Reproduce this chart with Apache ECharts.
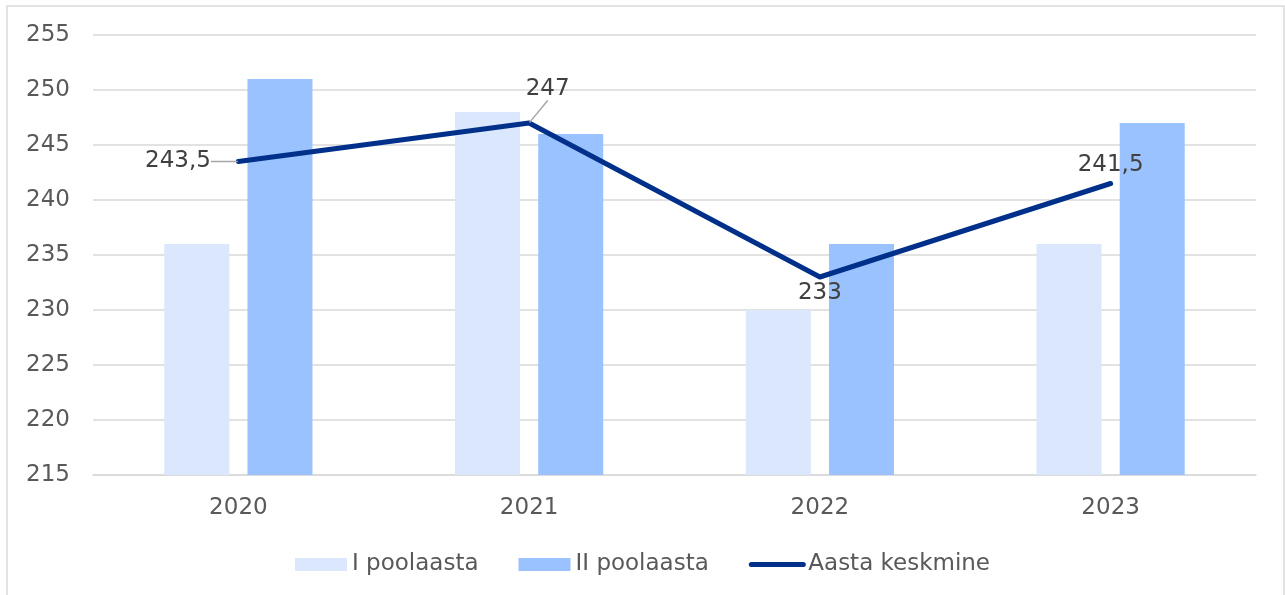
<!DOCTYPE html>
<html>
<head>
<meta charset="utf-8">
<script src="https://cdn.jsdelivr.net/npm/echarts@6/dist/echarts.min.js"></script>
<style>
    html, body { margin: 0; padding: 0; background: #fff; }
    #chart { width: 1285px; height: 595px; }
</style>
</head>
<body>
<div id="chart"></div>
<script>
// andmed
var categories = ['2020', '2021', '2022', '2023'];
var firstHalf = [236, 248, 230, 236];
var secondHalf = [251, 246, 236, 247];
var yearAverage = [243.5, 247, 233, 241.5];
var seriesNames = ['I poolaasta', 'II poolaasta', 'Aasta keskmine'];

var font = 'DejaVu Sans, Verdana, sans-serif';
var textColor = '#595959';
var lineColor = '#00308a';

let myChart = echarts.init(document.getElementById('chart'));

// keskmise joone sildid: esimesel kahel on juhtjoon
var avgData = yearAverage.map(function (v, i) {
    var item = { value: v };
    if (i === 2) {
        item.label = { position: 'bottom', distance: 4 };
        item.labelLine = { show: false };
    }
    if (i === 3) {
        item.label = { position: 'top', distance: 6 };
        item.labelLine = { show: false };
    }
    return item;
});

let option = {
    animation: false,
    graphic: [{
        type: 'rect',
        shape: { x: 7, y: 6, width: 1277, height: 620 },
        style: { fill: 'none', stroke: '#d9d9d9', lineWidth: 1.5 },
        silent: true
    }],
    grid: {
        left: 93,
        right: 29,
        top: 35,
        bottom: 120
    },
    legend: {
        top: 548,
        left: 'center',
        itemWidth: 52,
        itemHeight: 13,
        itemGap: 40,
        textStyle: { color: textColor, fontSize: 23, fontFamily: font },
        data: [
            { name: seriesNames[0], icon: 'rect' },
            { name: seriesNames[1], icon: 'rect' },
            {
                name: seriesNames[2],
                itemStyle: { opacity: 0 },
                lineStyle: { width: 5, color: lineColor, cap: 'round' }
            }
        ]
    },
    xAxis: {
        type: 'category',
        data: categories,
        axisTick: { show: false },
        axisLine: { lineStyle: { color: '#d9d9d9', width: 1.5 } },
        axisLabel: { color: textColor, fontSize: 23, fontFamily: font, margin: 22 }
    },
    yAxis: {
        type: 'value',
        min: 215,
        max: 255,
        interval: 5,
        axisLine: { show: false },
        axisTick: { show: false },
        splitLine: { lineStyle: { color: '#d9d9d9', width: 1.5 } },
        axisLabel: { color: textColor, fontSize: 23, fontFamily: font, margin: 23 }
    },
    series: [
        {
            name: seriesNames[0],
            type: 'bar',
            data: firstHalf,
            barWidth: 65,
            barGap: '28%',
            itemStyle: { color: '#dae7fd' }
        },
        {
            name: seriesNames[1],
            type: 'bar',
            data: secondHalf,
            barWidth: 65,
            barGap: '28%',
            itemStyle: { color: '#9ac2fe' }
        },
        {
            name: seriesNames[2],
            type: 'line',
            data: avgData,
            symbol: 'circle',
            symbolSize: 1,
            itemStyle: { color: lineColor },
            lineStyle: { color: lineColor, width: 5, cap: 'round', join: 'round' },
            label: {
                show: true,
                position: 'left',
                distance: 5,
                color: '#404040',
                fontSize: 23,
                fontFamily: font,
                formatter: function (p) {
                    return String(p.value).replace('.', ',');
                }
            },
            labelLine: {
                show: true,
                lineStyle: { color: '#a6a6a6', width: 1.5 }
            },
            labelLayout: function (p) {
                if (p.dataIndex === 0) return { dx: -22 };
                if (p.dataIndex === 1) return { dx: 46, dy: -34 };
                return {};
            },
            z: 5
        }
    ]
};

myChart.setOption(option);
</script>
</body>
</html>
